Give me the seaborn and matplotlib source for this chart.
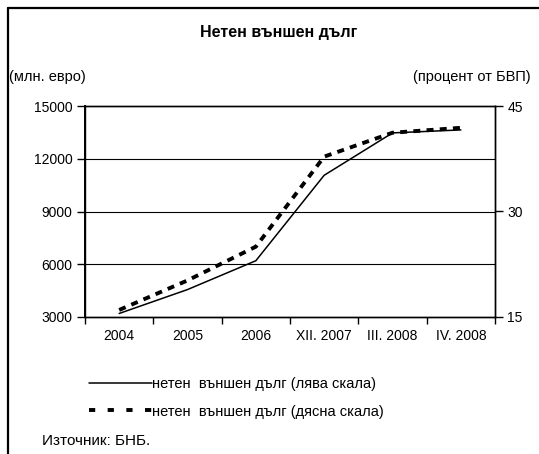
import pandas as pd
import seaborn as sns
import matplotlib.pyplot as plt
from matplotlib.lines import Line2D

# data
periods = ["2004", "2005", "2006", "XII. 2007", "III. 2008", "IV. 2008"]
debt_eur = [3200, 4560, 6200, 11060, 13470, 13640]      # млн. евро, left scale
debt_gdp = [16.0, 20.2, 25.0, 37.8, 41.2, 41.9]         # % от БВП, right scale

left_ticks = [3000, 6000, 9000, 12000, 15000]
right_ticks = [15, 30, 45]

sns.set_style("white")
plt.rcParams['font.family'] = ['Liberation Sans', 'DejaVu Sans']
plt.rcParams['text.color'] = 'black'
plt.rcParams['xtick.color'] = 'black'
plt.rcParams['ytick.color'] = 'black'

df = pd.DataFrame({"x": range(len(periods)), "eur": debt_eur, "gdp": debt_gdp})

fig = plt.figure(figsize=(5.39, 4.54), dpi=100)
ax = fig.add_axes([85 / 539, 1 - 317 / 454, 410 / 539, 211 / 454])
ax2 = ax.twinx()

# left scale, solid line
sns.lineplot(x="x", y="eur", data=df, ax=ax, color="black", linewidth=1.1)
# right scale, thick dashed line
sns.lineplot(x="x", y="gdp", data=df, ax=ax2, color="black", linewidth=2.8)
ax2.lines[0].set_dashes((1.8, 1.6))

ax.set_xlim(-0.5, len(periods) - 0.5)
ax.set_ylim(3000, 15000)
ax2.set_ylim(15, 45)
ax.set_yticks(left_ticks)
ax2.set_yticks(right_ticks)
ax.set_xlabel("")
ax.set_ylabel("")
ax2.set_ylabel("")

# category axis: tick marks between categories, labels at centers
ax.set_xticks([i - 0.5 for i in range(len(periods) + 1)])
ax.set_xticklabels([])
ax.set_xticks(range(len(periods)), minor=True)
ax.set_xticklabels(periods, minor=True, fontsize=10)
ax.tick_params(axis="x", which="major", direction="out", length=5, width=1, color="black", bottom=True)
ax.tick_params(axis="x", which="minor", length=0, pad=9)
ax.tick_params(axis="y", direction="out", length=6, width=1, color="black", labelsize=10, pad=3, left=True)
ax2.tick_params(axis="y", direction="out", length=6, width=1, color="black", labelsize=10, pad=3, right=True)

ax.grid(False)
ax2.grid(False)
for v in left_ticks[1:-1]:
    ax.axhline(v, color="black", linewidth=0.8, zorder=0)
for a in (ax, ax2):
    for s in a.spines.values():
        s.set_color("black")
        s.set_linewidth(1.0)
ax.spines["left"].set_linewidth(1.4)

fig.text(279 / 539, 1 - 33 / 454, "Нетен външен дълг", ha="center", va="center",
         fontsize=11.5, fontweight="bold")
fig.text(9 / 539, 1 - 77 / 454, "(млн. евро)", ha="left", va="center", fontsize=10.5)
fig.text(531 / 539, 1 - 77 / 454, "(процент от БВП)", ha="right", va="center", fontsize=10.5)
fig.text(42 / 539, 1 - 441 / 454, "Източник: БНБ.", ha="left", va="center", fontsize=11)

handles = [Line2D([], [], color="black", linewidth=1.1),
           Line2D([], [], color="black", linewidth=2.8, dashes=(1.6, 3.2))]
fig.legend(handles, ["нетен  външен дълг (лява скала)", "нетен  външен дълг (дясна скала)"],
           loc="center left", bbox_to_anchor=(89 / 539, 1 - 398 / 454), frameon=False,
           fontsize=10.5, handlelength=4.3, handletextpad=0.0, labelspacing=0.9,
           borderaxespad=0, borderpad=0)

# outer frame (left and top edges)
fig.add_artist(Line2D([8 / 539, 8 / 539], [0, 1 - 8 / 454], color="black", linewidth=1.6,
                      transform=fig.transFigure))
fig.add_artist(Line2D([8 / 539, 1], [1 - 8 / 454, 1 - 8 / 454], color="black", linewidth=1.6,
                      transform=fig.transFigure))

fig.savefig("out.png", dpi=100)
